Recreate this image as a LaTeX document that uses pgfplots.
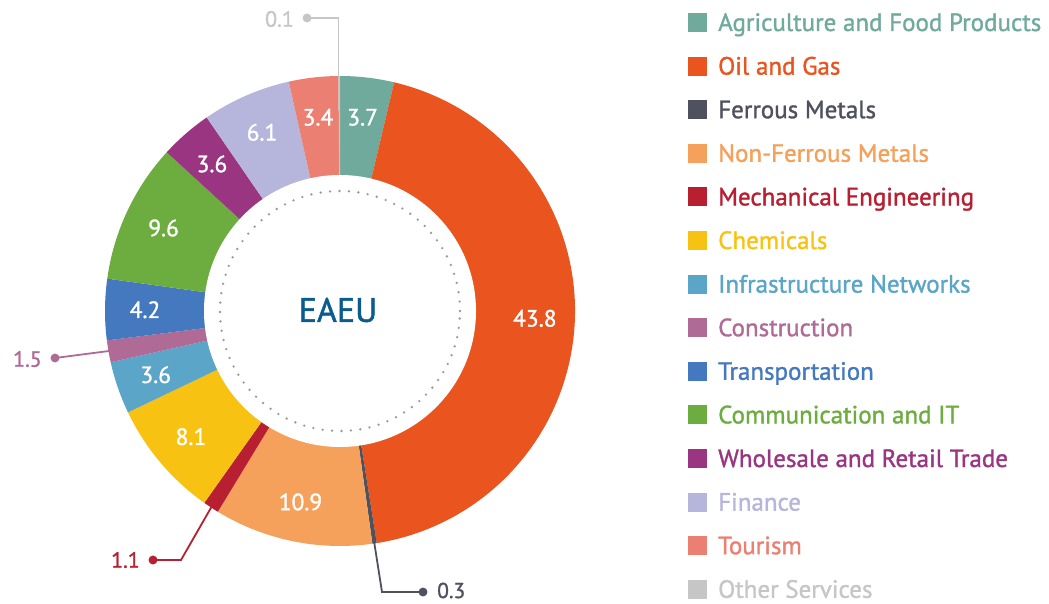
\documentclass[border=0pt]{standalone}
\usepackage{fontspec}
\setmainfont{PT Sans}
\newfontfamily\med{PT Sans}[FakeBold=1.3]
\usepackage{pgfplots}
\pgfplotsset{compat=1.18}
\usepackage{pgfplotstable}

\definecolor{cAgri}{HTML}{6FAA9C}
\definecolor{cOil}{HTML}{E9541F}
\definecolor{cFer}{HTML}{4F525E}
\definecolor{cNon}{HTML}{F5A05B}
\definecolor{cMech}{HTML}{B81F31}
\definecolor{cChem}{HTML}{F8C212}
\definecolor{cInfra}{HTML}{5BA5C8}
\definecolor{cCons}{HTML}{B06A96}
\definecolor{cTrans}{HTML}{4479C0}
\definecolor{cComm}{HTML}{6DAD3F}
\definecolor{cTrade}{HTML}{993581}
\definecolor{cFin}{HTML}{B6B5DB}
\definecolor{cTour}{HTML}{EB7F71}
\definecolor{cOther}{HTML}{C6C6C6}
\definecolor{cTitle}{HTML}{0B5C8E}
\definecolor{cDots}{HTML}{9A9A9A}

\newcommand\fs[1]{\med\fontsize{#1}{#1}\selectfont}

% share of each sector, clockwise from the top
\pgfplotstableread[col sep=comma]{
value,color,label,inside
3.7,cAgri,Agriculture and Food Products,1
43.8,cOil,Oil and Gas,1
0.3,cFer,Ferrous Metals,0
10.9,cNon,Non-Ferrous Metals,1
1.1,cMech,Mechanical Engineering,0
8.1,cChem,Chemicals,1
3.6,cInfra,Infrastructure Networks,1
1.5,cCons,Construction,0
4.2,cTrans,Transportation,1
9.6,cComm,Communication and IT,1
3.6,cTrade,Wholesale and Retail Trade,1
6.1,cFin,Finance,1
3.4,cTour,Tourism,1
0.1,cOther,Other Services,0
}\sectors

\begin{document}
\begin{tikzpicture}
\begin{axis}[x=1pt, y=1pt, xmin=0, xmax=1049, ymin=0, ymax=603,
  hide axis, clip=false, enlargelimits=false]
\path (axis cs:0,0) rectangle (axis cs:1049,603);
\pgfplotsextra{
  \pgfplotstablegetrowsof{\sectors}
  \pgfmathtruncatemacro\lastrow{\pgfplotsretval-1}
  \gdef\cum{0}
  \foreach \i in {0,...,\lastrow}{
    \pgfplotstablegetelem{\i}{value}\of\sectors \let\sval\pgfplotsretval
    \pgfplotstablegetelem{\i}{color}\of\sectors \let\scol\pgfplotsretval
    \pgfplotstablegetelem{\i}{label}\of\sectors \let\slab\pgfplotsretval
    \pgfplotstablegetelem{\i}{inside}\of\sectors \let\sinside\pgfplotsretval
    \pgfmathsetmacro\sa{90-3.6*\cum}
    \pgfmathsetmacro\sb{90-3.6*(\cum+\sval)}
    \pgfmathsetmacro\sm{(\sa+\sb)/2}
    \fill[fill=\scol] (axis cs:340,292) -- ++(\sa:235pt)
      arc[start angle=\sa, end angle=\sb, radius=235pt] -- cycle;
    \ifnum\sinside=1
      \path (axis cs:340,292) ++(\sm:195pt) node[text=white, font=\fs{23.5}] {\sval};
    \fi
    % legend row
    \pgfmathsetmacro\yc{603-22.5-43.6*\i}
    \fill[fill=\scol] (axis cs:688,\yc-9.5) rectangle (axis cs:707,\yc+9.5);
    \node[anchor=base west, inner sep=0pt, text=\scol, font=\fs{25}]
      at (axis cs:718,\yc-8.5) {\slab};
    \pgfmathsetmacro\newcum{\cum+\sval}
    \xdef\cum{\newcum}
  }
  \fill[white] (axis cs:340,292) circle[radius=136pt];
  \draw[cDots, line width=2.6pt, line cap=round, dash pattern=on 0pt off 9.45pt]
    (axis cs:340,292) circle[radius=120pt];
  \node[text=cTitle, font=\fs{34}] at (axis cs:338,293) {EAEU};
}
% leaders for the small sectors
\addplot[cOther, line width=1.8pt, mark=*, mark size=3.5pt, mark indices={1}]
  coordinates {(307,585) (338.5,585) (338.5,523)};
\node[anchor=east, text=cOther, font=\fs{22}, inner sep=0pt] at (axis cs:294,584) {0.1};
\addplot[cFer, line width=1.8pt, mark=*, mark size=3.5pt, mark indices={1}]
  coordinates {(423,11) (382,11) (374,62)};
\node[anchor=west, text=cFer, font=\fs{21.5}, inner sep=0pt] at (axis cs:437,12.5) {0.3};
\addplot[cMech, line width=1.8pt, mark=*, mark size=3.5pt, mark indices={1}]
  coordinates {(153,43) (181,43) (212,97)};
\node[anchor=east, text=cMech, font=\fs{22}, inner sep=0pt] at (axis cs:140,43) {1.1};
\addplot[cCons, line width=1.8pt, mark=*, mark size=3.5pt, mark indices={1}]
  coordinates {(55,245) (109,252)};
\node[anchor=east, text=cCons, font=\fs{22}, inner sep=0pt] at (axis cs:42,244) {1.5};
\end{axis}
\end{tikzpicture}
\end{document}
